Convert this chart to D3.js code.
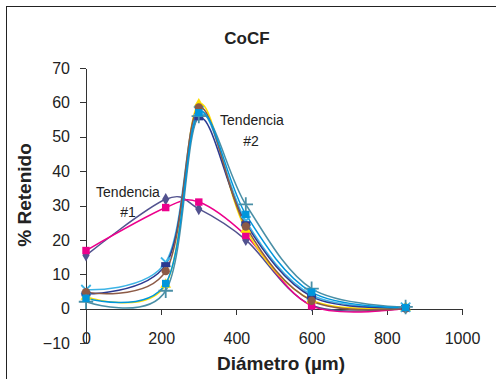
<!DOCTYPE html>
<html>
<head>
<meta charset="utf-8">
<script src="https://cdn.jsdelivr.net/npm/d3@7"></script>
<style>
  body { margin: 0; background: #fff; }
  text { font-family: "Liberation Sans", Arial, sans-serif; fill: #222; }
  .axis path, .axis line { stroke: #333; shape-rendering: crispEdges; }
  .axis text { font-size: 16px; fill: #222; }
</style>
</head>
<body>
<div id="chart"></div>
<script>
// diametros (um) de los tamices
var diam = [0, 212, 300, 425, 600, 850];

// % retenido por muestra
var s1 = [15.5, 31.8, 29.0, 20.0, 1.0, 0.2];
var s2 = [16.9, 29.4, 31.0, 21.3, 0.8, 0.1];
var s3 = [3.5, 7.0, 59.5, 23.0, 2.5, 0.3];
var s4 = [5.5, 13.5, 57.5, 25.5, 4.0, 0.4];
var s5 = [4.3, 12.8, 55.5, 24.7, 3.5, 0.3];
var s6 = [4.8, 10.9, 58.5, 23.9, 2.3, 0.0];
var s7 = [2.0, 5.2, 56.0, 30.3, 5.8, 0.5];
var s8 = [3.0, 7.3, 57.0, 27.4, 4.8, 0.3];

var xTicks = [0, 200, 400, 600, 800, 1000];
var yTicks = [-10, 0, 10, 20, 30, 40, 50, 60, 70];

var series = [
  {v: s1, color: "#52528f", sym: "diamond"},
  {v: s2, color: "#ec008c", sym: "square"},
  {v: s3, color: "#ffe000", sym: "triangle"},
  {v: s4, color: "#3cb4e6", sym: "times"},
  {v: s5, color: "#2b3990", sym: "dash"},
  {v: s6, color: "#8c5a46", sym: "circle"},
  {v: s7, color: "#4a8fa6", sym: "plus"},
  {v: s8, color: "#0096db", sym: "square"}
];

var W = 496, H = 379;

var svg = d3.select("#chart")
  .append("svg")
  .attr("width", W)
  .attr("height", H);

// marco
svg.append("rect")
  .attr("x", 6.5).attr("y", 6.5)
  .attr("width", W + 10).attr("height", H + 10)
  .attr("fill", "none")
  .attr("stroke", "#222");

var x = d3.scaleLinear()
  .domain([0, 1000])
  .range([86, 462]);

var y = d3.scaleLinear()
  .domain([-10, 70])
  .range([343, 68]);

var xAxis = d3.axisBottom(x)
  .tickValues(xTicks)
  .tickSize(6)
  .tickSizeOuter(0)
  .tickPadding(18);

var yAxis = d3.axisLeft(y)
  .tickValues(yTicks)
  .tickSize(6)
  .tickSizeOuter(0)
  .tickPadding(10);

svg.append("g")
  .attr("class", "axis")
  .attr("transform", "translate(0," + y(0) + ")")
  .call(xAxis)
  .selectAll("text")
  .text(function(d) { return d; });

svg.append("g")
  .attr("class", "axis")
  .attr("transform", "translate(" + x(0) + ",0)")
  .call(yAxis);

var line = d3.line()
  .x(function(d, i) { return x(diam[i]); })
  .y(function(d) { return y(d); })
  .curve(d3.curveCardinal.tension(0));

svg.selectAll(".serie")
  .data(series)
  .enter()
  .append("path")
  .attr("class", "serie")
  .attr("d", function(d) { return line(d.v); })
  .attr("fill", "none")
  .attr("stroke", function(d) { return d.color; })
  .attr("stroke-width", 1.5);

var symTypes = {
  diamond: d3.symbolDiamond,
  square: d3.symbolSquare,
  triangle: d3.symbolTriangle,
  circle: d3.symbolCircle,
  times: d3.symbolTimes,
  plus: d3.symbolPlus
};
var symSizes = {diamond: 45, square: 55, triangle: 50, circle: 55, times: 60, plus: 70};

series.forEach(function(s) {
  var g = svg.append("g");
  s.v.forEach(function(val, i) {
    var cx = x(diam[i]), cy = y(val);
    if (s.sym == "dash") {
      g.append("rect")
        .attr("x", cx - 4.5).attr("y", cy - 2.5)
        .attr("width", 9).attr("height", 5)
        .attr("fill", s.color);
      return;
    }
    var stroked = (s.sym == "times" || s.sym == "plus");
    g.append("path")
      .attr("transform", "translate(" + cx + "," + cy + ")")
      .attr("d", d3.symbol().type(symTypes[s.sym]).size(symSizes[s.sym])())
      .attr("fill", stroked ? "none" : s.color)
      .attr("stroke", stroked ? s.color : "none")
      .attr("stroke-width", 1.8);
  });
});

// titulo y etiquetas
svg.append("text")
  .attr("x", 247).attr("y", 44)
  .attr("text-anchor", "middle")
  .style("font-size", "17px")
  .style("font-weight", "bold")
  .text("CoCF");

svg.append("text")
  .attr("transform", "translate(31,195) rotate(-90)")
  .attr("text-anchor", "middle")
  .style("font-size", "19px")
  .style("font-weight", "bold")
  .text("% Retenido");

svg.append("text")
  .attr("x", 281).attr("y", 370)
  .attr("text-anchor", "middle")
  .style("font-size", "19px")
  .style("font-weight", "bold")
  .text("Diámetro (µm)");

var notes = [
  {t: "Tendencia", x: 128, y: 197},
  {t: "#1", x: 128, y: 217},
  {t: "Tendencia", x: 252, y: 125},
  {t: "#2", x: 251, y: 146}
];

svg.selectAll(".nota")
  .data(notes)
  .enter()
  .append("text")
  .attr("class", "nota")
  .attr("x", function(d) { return d.x; })
  .attr("y", function(d) { return d.y; })
  .attr("text-anchor", "middle")
  .style("font-size", "14px")
  .text(function(d) { return d.t; });
</script>
</body>
</html>
